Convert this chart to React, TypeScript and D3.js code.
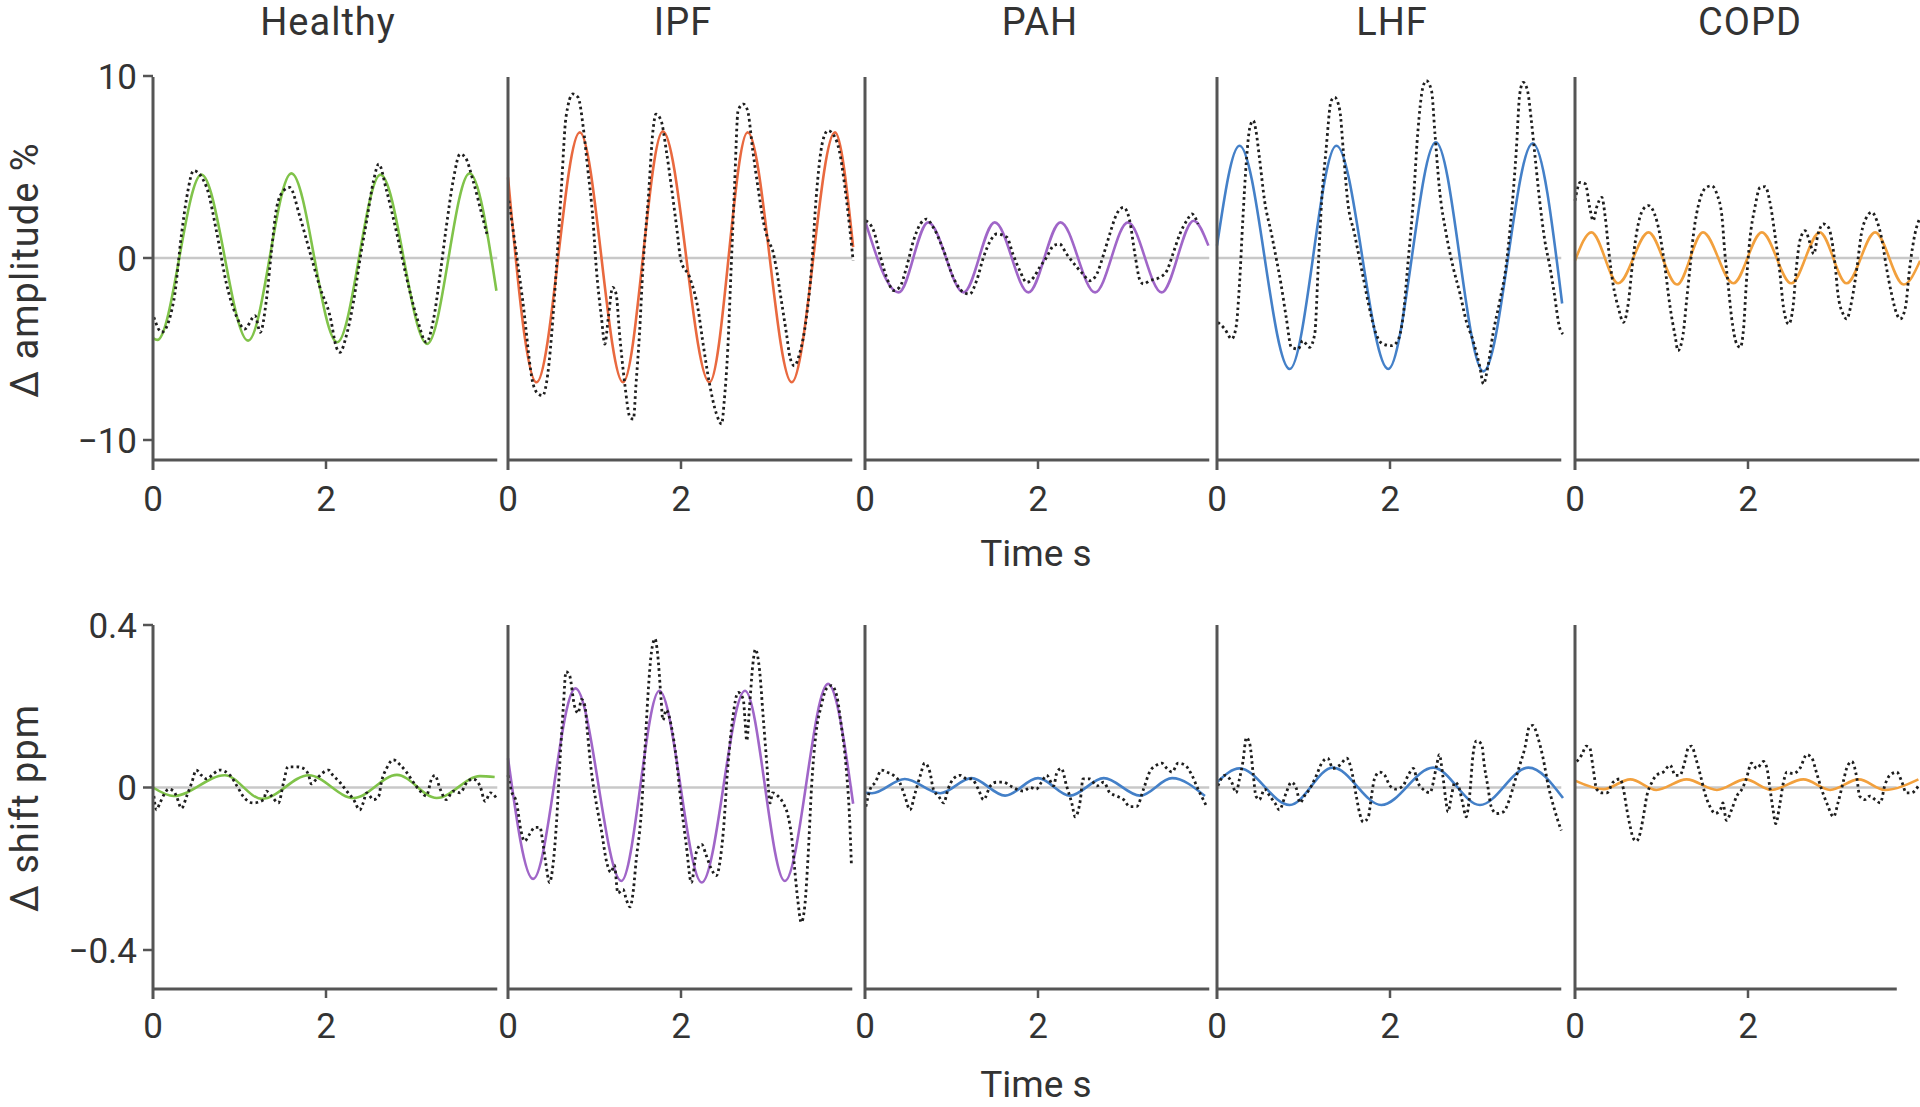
import React from "react";
import * as d3 from "d3";

// ---------- DATA ----------
const panelNames = ["Healthy", "IPF", "PAH", "LHF", "COPD"];
const xTicks = [0, 2];
const ampTicks = [10, 0, -10];
const ampTickLabels = ["10", "0", "\u221210"];
const shiftTicks = [0.4, 0, -0.4];
const shiftTickLabels = ["0.4", "0", "\u22120.4"];
const ampLabel = "\u0394 amplitude %";
const shiftLabel = "\u0394 shift ppm";
const timeLabel = "Time s";

// Top row: amplitude (%), [time s, value]
const healthyAmpFit = [[0,-4.4],[0.05,-4.5],[0.56,4.58],[1.1,-4.54],[1.6,4.65],[2.13,-4.63],[2.63,4.58],[3.17,-4.72],[3.66,4.65],[3.97,-1.8]];
const healthyAmpRaw = [[0.01,-3.26],[0.1,-4.08],[0.24,-2.34],[0.33,1.32],[0.39,3.33],[0.47,4.8],[0.62,3.88],[0.74,1.32],[0.85,-1.43],[0.97,-3.26],[1.06,-3.9],[1.18,-3.17],[1.24,-4.08],[1.31,-2.34],[1.37,0.4],[1.43,2.78],[1.51,3.7],[1.58,3.88],[1.7,2.23],[1.82,0.22],[1.93,-1.61],[2.05,-3.26],[2.12,-4.91],[2.16,-5.18],[2.24,-4.18],[2.32,-2.34],[2.39,-0.15],[2.47,2.05],[2.55,4.25],[2.61,5.16],[2.7,3.7],[2.82,1.32],[2.93,-1.06],[3.05,-3.26],[3.16,-4.63],[3.24,-3.44],[3.32,-0.88],[3.39,1.68],[3.47,4.25],[3.55,5.71],[3.61,5.53],[3.7,4.25],[3.8,2.42],[3.86,1.32]];

const ipfAmpFit = [[0,4.43],[0.33,-6.83],[0.83,6.9],[1.33,-6.83],[1.79,6.96],[2.33,-6.83],[2.77,6.9],[3.28,-6.83],[3.78,6.9],[3.99,0.6]];
const ipfAmpRaw = [[0.01,3.15],[0.17,-2.34],[0.29,-6.92],[0.35,-7.47],[0.4,-7.56],[0.46,-6.37],[0.52,-3.26],[0.56,-0.51],[0.62,4.07],[0.67,7.73],[0.75,9.01],[0.81,8.83],[0.87,7.18],[0.92,4.98],[0.98,2.23],[1.02,-0.51],[1.08,-3.26],[1.12,-4.73],[1.16,-3.26],[1.21,-1.61],[1.25,-1.98],[1.29,-4.18],[1.35,-6.92],[1.41,-8.75],[1.45,-8.85],[1.48,-6.92],[1.52,-4.18],[1.56,-0.51],[1.62,3.15],[1.68,7.18],[1.71,7.91],[1.77,7.55],[1.83,5.9],[1.89,3.88],[1.95,1.68],[2.0,-0.15],[2.1,-1.06],[2.2,-2.89],[2.25,-4.54],[2.33,-6.92],[2.41,-8.57],[2.47,-9.12],[2.5,-7.84],[2.54,-5.09],[2.58,-0.51],[2.62,4.07],[2.66,8.1],[2.72,8.46],[2.77,8.1],[2.83,5.9],[2.89,3.88],[2.95,2.05],[3.01,0.95],[3.06,0.4],[3.1,-0.51],[3.16,-2.34],[3.22,-4.18],[3.26,-5.46],[3.31,-5.92],[3.37,-5.27],[3.45,-3.26],[3.51,-0.51],[3.56,3.15],[3.64,6.45],[3.7,7.0],[3.78,6.63],[3.83,5.9],[3.89,4.07],[3.95,1.68],[3.99,-0.15]];

const pahAmpFit = [[0,2.05],[0.39,-1.89],[0.73,1.96],[1.14,-1.89],[1.5,1.96],[1.89,-1.89],[2.26,1.96],[2.66,-1.89],[3.04,1.96],[3.43,-1.89],[3.8,2.05],[3.97,0.68]];
const pahAmpRaw = [[0.01,2.05],[0.1,1.5],[0.17,0.22],[0.25,-1.06],[0.33,-1.79],[0.4,-1.61],[0.48,-0.51],[0.56,0.95],[0.64,1.87],[0.71,2.14],[0.79,1.68],[0.91,0.4],[1.02,-1.06],[1.14,-1.89],[1.21,-1.98],[1.29,-1.25],[1.37,0.04],[1.45,0.95],[1.52,1.32],[1.64,1.14],[1.71,0.22],[1.79,-0.7],[1.87,-1.34],[1.95,-1.06],[2.02,-0.51],[2.1,0.04],[2.18,0.68],[2.25,0.77],[2.33,0.22],[2.45,-0.51],[2.52,-0.88],[2.6,-1.25],[2.68,-0.88],[2.76,0.22],[2.83,1.32],[2.91,2.42],[2.99,2.78],[3.06,2.05],[3.12,0.22],[3.18,-1.25],[3.22,-1.43],[3.29,-1.25],[3.41,-1.06],[3.49,-0.7],[3.56,0.22],[3.64,1.32],[3.72,2.05],[3.78,2.42],[3.85,1.87]];

const lhfAmpFit = [[0,0.68],[0.26,6.17],[0.84,-6.1],[1.38,6.17],[1.98,-6.1],[2.53,6.36],[3.08,-6.23],[3.65,6.3],[3.99,-2.5]];
const lhfAmpRaw = [[0.01,-3.53],[0.09,-3.9],[0.17,-4.45],[0.22,-3.81],[0.26,-1.43],[0.3,2.23],[0.34,5.35],[0.38,7.18],[0.42,7.55],[0.45,7.0],[0.49,5.53],[0.55,3.15],[0.63,1.32],[0.69,-0.15],[0.74,-1.43],[0.8,-3.26],[0.86,-4.91],[0.94,-5.0],[0.99,-4.54],[1.07,-4.91],[1.13,-4.18],[1.17,-0.51],[1.21,3.15],[1.26,5.9],[1.32,8.64],[1.36,8.83],[1.42,8.1],[1.46,5.9],[1.51,3.15],[1.59,1.32],[1.69,-1.06],[1.76,-2.71],[1.84,-4.18],[1.92,-4.73],[2.02,-4.82],[2.09,-4.54],[2.15,-3.26],[2.21,-0.15],[2.27,3.15],[2.32,6.81],[2.38,9.38],[2.42,9.74],[2.48,9.19],[2.52,6.81],[2.57,3.88],[2.65,1.32],[2.73,-0.51],[2.81,-1.98],[2.88,-3.44],[2.96,-4.54],[3.04,-6.01],[3.08,-6.92],[3.13,-6.01],[3.19,-4.18],[3.27,-2.34],[3.34,-0.51],[3.4,2.23],[3.46,5.9],[3.5,9.01],[3.54,9.65],[3.59,9.19],[3.63,7.73],[3.67,5.9],[3.73,3.15],[3.79,0.95],[3.85,-0.51],[3.9,-1.98],[3.96,-3.81],[4.0,-4.18]];

const copdAmpFit = [[0,-0.15],[0.19,1.41],[0.5,-1.39],[0.85,1.41],[1.18,-1.46],[1.48,1.41],[1.83,-1.39],[2.16,1.41],[2.5,-1.39],[2.83,1.41],[3.14,-1.39],[3.47,1.41],[3.8,-1.46],[3.99,-0.15]];
const copdAmpRaw = [[0,3.15],[0.06,4.16],[0.12,4.07],[0.17,2.78],[0.21,2.05],[0.25,2.78],[0.31,3.33],[0.35,2.23],[0.39,0.4],[0.44,-1.43],[0.5,-2.71],[0.56,-3.53],[0.62,-2.34],[0.66,-0.51],[0.71,1.32],[0.79,2.69],[0.85,2.88],[0.92,2.42],[0.98,1.32],[1.04,-0.51],[1.1,-2.71],[1.16,-4.36],[1.19,-5.09],[1.25,-4.18],[1.29,-2.34],[1.33,-0.51],[1.37,1.32],[1.44,3.15],[1.52,3.88],[1.58,3.97],[1.64,3.52],[1.7,2.23],[1.73,0.4],[1.77,-1.43],[1.81,-3.26],[1.87,-4.73],[1.91,-4.91],[1.95,-3.81],[1.98,-1.43],[2.02,0.95],[2.08,2.78],[2.14,3.88],[2.2,3.92],[2.25,3.15],[2.31,1.32],[2.37,-0.88],[2.41,-2.71],[2.47,-3.63],[2.52,-2.71],[2.56,-0.51],[2.6,0.95],[2.66,1.5],[2.72,0.77],[2.76,0.22],[2.81,1.32],[2.87,1.87],[2.93,1.68],[2.97,0.95],[3.01,-0.51],[3.04,-1.98],[3.1,-3.08],[3.14,-3.35],[3.2,-2.34],[3.26,-0.51],[3.31,1.32],[3.37,2.23],[3.43,2.51],[3.49,2.05],[3.55,0.95],[3.6,-0.51],[3.66,-1.98],[3.72,-3.08],[3.76,-3.35],[3.82,-2.71],[3.87,-0.51],[3.93,1.32],[3.99,2.23]];

// Bottom row: chemical shift (ppm), [time s, value]
const healthyShiftFit = [[0,0],[0.24,-0.021],[0.83,0.03],[1.26,-0.028],[1.8,0.03],[2.32,-0.026],[2.82,0.031],[3.28,-0.026],[3.78,0.028],[3.95,0.026]];
const healthyShiftRaw = [[0.01,-0.021],[0.04,-0.055],[0.08,-0.038],[0.14,-0.013],[0.18,-0.004],[0.24,-0.009],[0.27,-0.021],[0.33,-0.051],[0.39,-0.021],[0.45,0.013],[0.5,0.043],[0.56,0.03],[0.62,0.021],[0.7,0.034],[0.77,0.043],[0.89,0.03],[0.97,0.004],[1.04,-0.021],[1.16,-0.038],[1.28,-0.03],[1.31,-0.009],[1.37,-0.021],[1.45,-0.038],[1.51,0.013],[1.56,0.051],[1.66,0.051],[1.74,0.047],[1.8,0.03],[1.83,0.009],[1.89,0.021],[1.95,0.034],[2.03,0.043],[2.08,0.03],[2.16,0.013],[2.24,-0.009],[2.32,-0.03],[2.39,-0.055],[2.43,-0.038],[2.47,-0.013],[2.55,-0.03],[2.61,-0.021],[2.64,0.013],[2.7,0.047],[2.78,0.068],[2.86,0.055],[2.93,0.038],[3.01,0.013],[3.09,-0.009],[3.16,-0.021],[3.22,0.021],[3.26,0.03],[3.32,-0.004],[3.39,-0.03],[3.47,-0.009],[3.55,-0.013],[3.63,0.013],[3.7,0.021],[3.78,0.004],[3.84,-0.034],[3.9,-0.013],[3.97,-0.026]];

const ipfShiftFit = [[0,0.072],[0.29,-0.225],[0.78,0.244],[1.31,-0.23],[1.75,0.238],[2.24,-0.234],[2.74,0.238],[3.2,-0.23],[3.7,0.255],[3.99,-0.04]];
const ipfShiftRaw = [[0,0.03],[0.04,-0.009],[0.1,-0.038],[0.15,-0.106],[0.19,-0.132],[0.25,-0.115],[0.31,-0.098],[0.37,-0.098],[0.4,-0.132],[0.44,-0.191],[0.48,-0.234],[0.52,-0.191],[0.56,-0.089],[0.6,0.064],[0.64,0.2],[0.67,0.285],[0.71,0.277],[0.77,0.2],[0.81,0.183],[0.85,0.217],[0.89,0.2],[0.92,0.132],[0.96,0.047],[1.02,-0.038],[1.08,-0.106],[1.14,-0.183],[1.19,-0.209],[1.23,-0.191],[1.27,-0.26],[1.33,-0.251],[1.37,-0.277],[1.41,-0.294],[1.45,-0.251],[1.48,-0.183],[1.54,-0.064],[1.58,0.081],[1.62,0.234],[1.66,0.336],[1.7,0.366],[1.73,0.328],[1.77,0.217],[1.79,0.166],[1.83,0.191],[1.89,0.149],[1.95,0.064],[2.0,-0.038],[2.06,-0.14],[2.12,-0.234],[2.18,-0.157],[2.24,-0.14],[2.29,-0.166],[2.35,-0.2],[2.41,-0.217],[2.45,-0.183],[2.49,-0.106],[2.54,0.047],[2.6,0.174],[2.66,0.234],[2.72,0.217],[2.74,0.166],[2.76,0.115],[2.79,0.191],[2.83,0.302],[2.86,0.34],[2.91,0.285],[2.95,0.174],[2.99,0.064],[3.03,-0.038],[3.06,-0.013],[3.12,-0.021],[3.18,-0.038],[3.24,-0.072],[3.28,-0.123],[3.31,-0.191],[3.35,-0.277],[3.39,-0.332],[3.43,-0.294],[3.47,-0.166],[3.51,0.004],[3.56,0.132],[3.62,0.2],[3.68,0.243],[3.74,0.251],[3.8,0.226],[3.85,0.157],[3.91,0.047],[3.95,-0.081],[3.97,-0.191]];

const pahShiftFit = [[0,-0.013],[0.08,-0.014],[0.46,0.021],[0.87,-0.014],[1.23,0.023],[1.62,-0.02],[2.0,0.023],[2.37,-0.02],[2.76,0.023],[3.18,-0.02],[3.55,0.023],[3.93,-0.021]];
const pahShiftRaw = [[0.01,-0.047],[0.06,-0.004],[0.12,0.013],[0.19,0.043],[0.25,0.038],[0.33,0.03],[0.4,0.013],[0.46,-0.021],[0.52,-0.055],[0.58,-0.013],[0.64,0.03],[0.69,0.06],[0.75,0.038],[0.79,-0.004],[0.85,-0.021],[0.91,-0.038],[0.96,-0.004],[1.02,0.021],[1.1,0.03],[1.18,0.021],[1.23,0.021],[1.31,-0.004],[1.37,-0.03],[1.45,0.004],[1.52,0.013],[1.6,0.013],[1.68,0.004],[1.75,-0.004],[1.83,-0.009],[1.91,0],[1.98,-0.004],[2.04,0.013],[2.1,0.03],[2.18,0.004],[2.22,0.038],[2.27,0.047],[2.33,0.004],[2.39,-0.038],[2.43,-0.072],[2.49,-0.03],[2.52,0.021],[2.6,0.021],[2.68,0.004],[2.76,0.013],[2.83,-0.013],[2.91,-0.021],[2.99,-0.03],[3.06,-0.047],[3.14,-0.047],[3.22,-0.004],[3.29,0.038],[3.37,0.055],[3.43,0.06],[3.49,0.047],[3.55,0.038],[3.62,0.06],[3.7,0.055],[3.78,0.03],[3.85,-0.004],[3.91,-0.03],[3.95,-0.047]];

const lhfShiftFit = [[0,0.013],[0.26,0.047],[0.84,-0.043],[1.34,0.049],[1.9,-0.043],[2.5,0.049],[3.04,-0.043],[3.6,0.049],[4.0,-0.026]];
const lhfShiftRaw = [[0.01,0.004],[0.09,0.03],[0.17,0.013],[0.22,-0.013],[0.26,0.021],[0.3,0.064],[0.34,0.123],[0.38,0.106],[0.42,0.03],[0.45,-0.021],[0.49,-0.03],[0.55,-0.004],[0.61,-0.021],[0.67,-0.038],[0.72,-0.055],[0.8,-0.013],[0.86,0.013],[0.92,-0.004],[0.96,-0.038],[1.01,-0.021],[1.07,-0.004],[1.15,0.03],[1.21,0.06],[1.28,0.072],[1.34,0.047],[1.42,0.055],[1.5,0.072],[1.55,0.047],[1.61,-0.021],[1.65,-0.064],[1.69,-0.085],[1.75,-0.072],[1.78,-0.03],[1.82,0.021],[1.88,0.038],[1.94,0.03],[2.0,0.004],[2.07,-0.004],[2.15,0.004],[2.21,0.03],[2.27,0.047],[2.32,0.013],[2.38,-0.004],[2.46,-0.013],[2.54,0.055],[2.57,0.081],[2.61,0.03],[2.65,-0.038],[2.67,-0.06],[2.71,-0.021],[2.75,0.013],[2.79,0.004],[2.84,-0.038],[2.88,-0.072],[2.92,-0.021],[2.96,0.081],[3.0,0.115],[3.06,0.106],[3.09,0.055],[3.13,0.004],[3.17,-0.047],[3.23,-0.064],[3.31,-0.06],[3.38,-0.03],[3.44,0.013],[3.5,0.055],[3.56,0.098],[3.61,0.149],[3.65,0.153],[3.71,0.123],[3.77,0.072],[3.83,0.004],[3.88,-0.038],[3.94,-0.081],[3.98,-0.106]];

const copdShiftFit = [[0,0.017],[0.33,-0.004],[0.64,0.02],[0.94,-0.006],[1.29,0.02],[1.64,-0.006],[1.97,0.02],[2.27,-0.006],[2.64,0.02],[2.95,-0.006],[3.28,0.02],[3.58,-0.006],[3.97,0.02]];
const copdShiftRaw = [[0.02,0.064],[0.08,0.081],[0.13,0.102],[0.17,0.098],[0.21,0.047],[0.25,-0.004],[0.31,-0.013],[0.37,-0.013],[0.44,0.013],[0.52,0.021],[0.56,-0.004],[0.6,-0.055],[0.64,-0.098],[0.67,-0.123],[0.71,-0.132],[0.75,-0.115],[0.79,-0.072],[0.83,-0.021],[0.89,0.013],[0.94,0.03],[1.02,0.038],[1.1,0.055],[1.16,0.03],[1.21,0.03],[1.27,0.064],[1.31,0.098],[1.35,0.102],[1.39,0.077],[1.45,0.03],[1.5,-0.013],[1.56,-0.047],[1.62,-0.064],[1.68,-0.055],[1.71,-0.038],[1.75,-0.081],[1.81,-0.055],[1.87,-0.021],[1.93,-0.004],[1.98,0.021],[2.04,0.06],[2.1,0.047],[2.18,0.064],[2.22,0.047],[2.25,0.004],[2.29,-0.055],[2.32,-0.089],[2.37,-0.038],[2.41,0.013],[2.45,0.038],[2.52,0.034],[2.6,0.047],[2.68,0.081],[2.74,0.072],[2.79,0.038],[2.85,-0.004],[2.91,-0.038],[2.99,-0.072],[3.04,-0.038],[3.1,0.013],[3.14,0.047],[3.2,0.064],[3.26,0.021],[3.29,-0.021],[3.35,-0.03],[3.41,-0.021],[3.47,-0.03],[3.53,-0.038],[3.58,0.004],[3.64,0.03],[3.72,0.038],[3.78,0.013],[3.83,-0.013],[3.89,-0.013],[3.97,0.004]];

const ampFits = [healthyAmpFit, ipfAmpFit, pahAmpFit, lhfAmpFit, copdAmpFit];
const ampRaws = [healthyAmpRaw, ipfAmpRaw, pahAmpRaw, lhfAmpRaw, copdAmpRaw];
const shiftFits = [healthyShiftFit, ipfShiftFit, pahShiftFit, lhfShiftFit, copdShiftFit];
const shiftRaws = [healthyShiftRaw, ipfShiftRaw, pahShiftRaw, lhfShiftRaw, copdShiftRaw];

// ---------- STYLE / LAYOUT ----------
const GREEN = "#80c34a";
const RED_ORANGE = "#e9693f";
const PURPLE = "#a066c8";
const BLUE = "#4480c8";
const AMBER = "#f2a03d";
const ampColors = [GREEN, RED_ORANGE, PURPLE, BLUE, AMBER];
const shiftColors = [GREEN, PURPLE, BLUE, BLUE, AMBER];

const panelX0 = [153, 508, 865, 1217, 1575];
const pxPerSec = 86.5;
const axisEndT = [3.98, 3.98, 3.98, 3.98, 3.98];
const axisEndTBottom = [3.98, 3.98, 3.98, 3.98, 3.72];
const AXIS = "#555555";
const TEXT = "#333333";
const FONT = "Roboto, 'DejaVu Sans', sans-serif";

function Panel({ i, row }: { i: number; row: number }) {
  const x0 = panelX0[i];
  const x = d3.scaleLinear().domain([0, 4]).range([x0, x0 + 4 * pxPerSec]);
  const top = row === 0;
  const y = top
    ? d3.scaleLinear().domain([-10, 10]).range([440, 76])
    : d3.scaleLinear().domain([-0.4, 0.4]).range([950, 625]);
  const axisY = top ? 460 : 989;
  const yTop = top ? 77 : 625;
  const fit = top ? ampFits[i] : shiftFits[i];
  const raw = top ? ampRaws[i] : shiftRaws[i];
  const color = top ? ampColors[i] : shiftColors[i];
  const endT = top ? axisEndT[i] : axisEndTBottom[i];
  const line = d3
    .line<number[]>()
    .x((d) => x(d[0]))
    .y((d) => y(d[1]))
    .curve(d3.curveMonotoneX);
  const tickLabelY = top ? 511 : 1038;
  const yt = top ? ampTicks : shiftTicks;
  const ytl = top ? ampTickLabels : shiftTickLabels;
  return (
    <g>
      <line x1={x(0)} x2={x(endT)} y1={y(0)} y2={y(0)} stroke="#c8c8c8" strokeWidth={2.5} />
      <path d={line(fit) || ""} fill="none" stroke={color} strokeWidth={2.6} />
      <path
        d={line(raw) || ""}
        fill="none"
        stroke="#1e1e1e"
        strokeWidth={2.8}
        strokeDasharray="2.6 3.2"
      />
      {/* axes */}
      <line x1={x0} x2={x0} y1={yTop} y2={axisY + 10} stroke={AXIS} strokeWidth={3} />
      <line x1={x0} x2={x(endT)} y1={axisY} y2={axisY} stroke={AXIS} strokeWidth={3} />
      {xTicks.map((t) => (
        <g key={t}>
          {t !== 0 && (
            <line x1={x(t)} x2={x(t)} y1={axisY} y2={axisY + 9} stroke={AXIS} strokeWidth={2.5} />
          )}
          <text
            x={x(t)}
            y={tickLabelY}
            textAnchor="middle"
            fontSize={35}
            fill={TEXT}
            fontFamily={FONT}
          >
            {t}
          </text>
        </g>
      ))}
      {i === 0 &&
        yt.map((v, k) => (
          <g key={v}>
            <line x1={x0 - 10} x2={x0} y1={y(v)} y2={y(v)} stroke={AXIS} strokeWidth={2.5} />
            <text
              x={x0 - 16}
              y={y(v) + 12.5}
              textAnchor="end"
              fontSize={35}
              fill={TEXT}
              fontFamily={FONT}
            >
              {ytl[k]}
            </text>
          </g>
        ))}
      {top && (
        <text
          x={x0 + 175}
          y={35}
          textAnchor="middle"
          fontSize={38}
          fill={TEXT}
          fontFamily={FONT}
          letterSpacing={1}
        >
          {panelNames[i]}
        </text>
      )}
    </g>
  );
}

export default function App() {
  return (
    <svg
      width={1920}
      height={1107}
      viewBox="0 0 1920 1107"
      style={{ position: "absolute", left: 0, top: 0, background: "#ffffff" }}
    >
      <rect x={0} y={0} width={1920} height={1107} fill="#ffffff" />
      {panelNames.map((_, i) => (
        <Panel key={"t" + i} i={i} row={0} />
      ))}
      {panelNames.map((_, i) => (
        <Panel key={"b" + i} i={i} row={1} />
      ))}
      <text x={1036} y={566} textAnchor="middle" fontSize={37} fill={TEXT} fontFamily={FONT}>
        {timeLabel}
      </text>
      <text x={1036} y={1097} textAnchor="middle" fontSize={37} fill={TEXT} fontFamily={FONT}>
        {timeLabel}
      </text>
      <text
        transform="translate(38,270) rotate(-90)"
        textAnchor="middle"
        fontSize={38}
        fill={TEXT}
        fontFamily={FONT}
        letterSpacing={1}
      >
        {ampLabel}
      </text>
      <text
        transform="translate(38,808) rotate(-90)"
        textAnchor="middle"
        fontSize={38}
        fill={TEXT}
        fontFamily={FONT}
        letterSpacing={1}
      >
        {shiftLabel}
      </text>
    </svg>
  );
}
